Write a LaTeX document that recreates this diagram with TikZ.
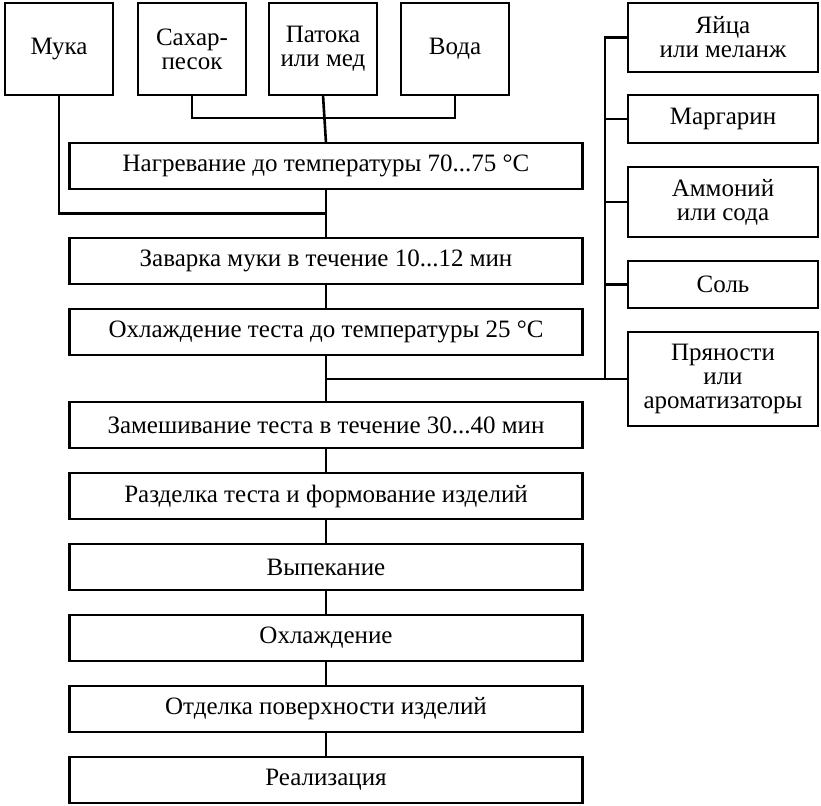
\documentclass[tikz,border=0pt]{standalone}
\usepackage{fontspec}
\setmainfont{Liberation Serif}
\usetikzlibrary{positioning,calc}

\begin{document}
\begin{tikzpicture}[x=1pt,y=1pt,
    font=\fontsize{25}{24}\selectfont,
    block/.style={rectangle, draw, line width=2.6pt, align=center, inner sep=0pt, outer sep=0pt},
    src/.style={block, minimum width=108pt, minimum height=92pt},
    stage/.style={block, minimum width=513pt, minimum height=46pt},
    add/.style={block, minimum width=190pt},
    link/.style={draw, line width=2.6pt},
  ]
  \useasboundingbox (0,0) rectangle (821,-805);
  \node[src] (muka) at (59,-49) {Мука};
  \node[src, right=25pt of muka] (sahar) {Сахар-\\песок};
  \node[src, right=23pt of sahar] (patoka) {Патока\\или мед};
  \node[src, right=24pt of patoka] (voda) {Вода};
  \node[stage] (heat) at (326,-166) {Нагревание до температуры 70...75 °С};
  \node[stage, below=49pt of heat] (zavar) {Заварка муки в течение 10...12 мин};
  \node[stage, below=25pt of zavar] (cool) {Охлаждение теста до температуры 25 °С};
  \node[stage, below=47pt of cool] (knead) {Замешивание теста в течение 30...40 мин};
  \node[stage, below=25pt of knead] (razd) {Разделка теста и формование изделий};
  \node[stage, below=25pt of razd] (bake) {Выпекание};
  \node[stage, below=25pt of bake] (cooled) {Охлаждение};
  \node[stage, below=25pt of cooled] (finish) {Отделка поверхности изделий};
  \node[stage, below=25pt of finish] (sale) {Реализация};
  \node[add, minimum height=69pt] (egg) at (723,-37.5) {Яйца\\или меланж};
  \node[add, minimum height=48pt, below=23pt of egg] (marg) {Маргарин};
  \node[add, minimum height=70pt, below=24pt of marg] (amm) {Аммоний\\или сода};
  \node[add, minimum height=47pt, below=24pt of amm] (salt) {Соль};
  \node[add, minimum height=94pt, below=24pt of salt] (spice) {Пряности\\или\\ароматизаторы};
  \path[link] (sahar.south) -- ++(0,-23pt) -| (voda.south);
  \path[link] (patoka.south) -- (heat.north);
  \path[link] (muka.south) |- ($(heat.south)!.5!(zavar.north)$);
  \path[link] (heat) -- (zavar);
  \path[link] (zavar) -- (cool);
  \path[link] (cool) -- (knead);
  \path[link] (knead) -- (razd);
  \path[link] (razd) -- (bake);
  \path[link] (bake) -- (cooled);
  \path[link] (cooled) -- (finish);
  \path[link] (finish) -- (sale);
  \path[link] (egg.west) -- ++(-23pt,0) coordinate (bus) -- (bus |- spice.west);
  \path[link] (marg.west) -- (marg.west -| bus);
  \path[link] (amm.west) -- (amm.west -| bus);
  \path[link] (salt.west) -- (salt.west -| bus);
  \path[link] (spice.west) -- (spice.west -| cool.south);
\end{tikzpicture}
\end{document}
